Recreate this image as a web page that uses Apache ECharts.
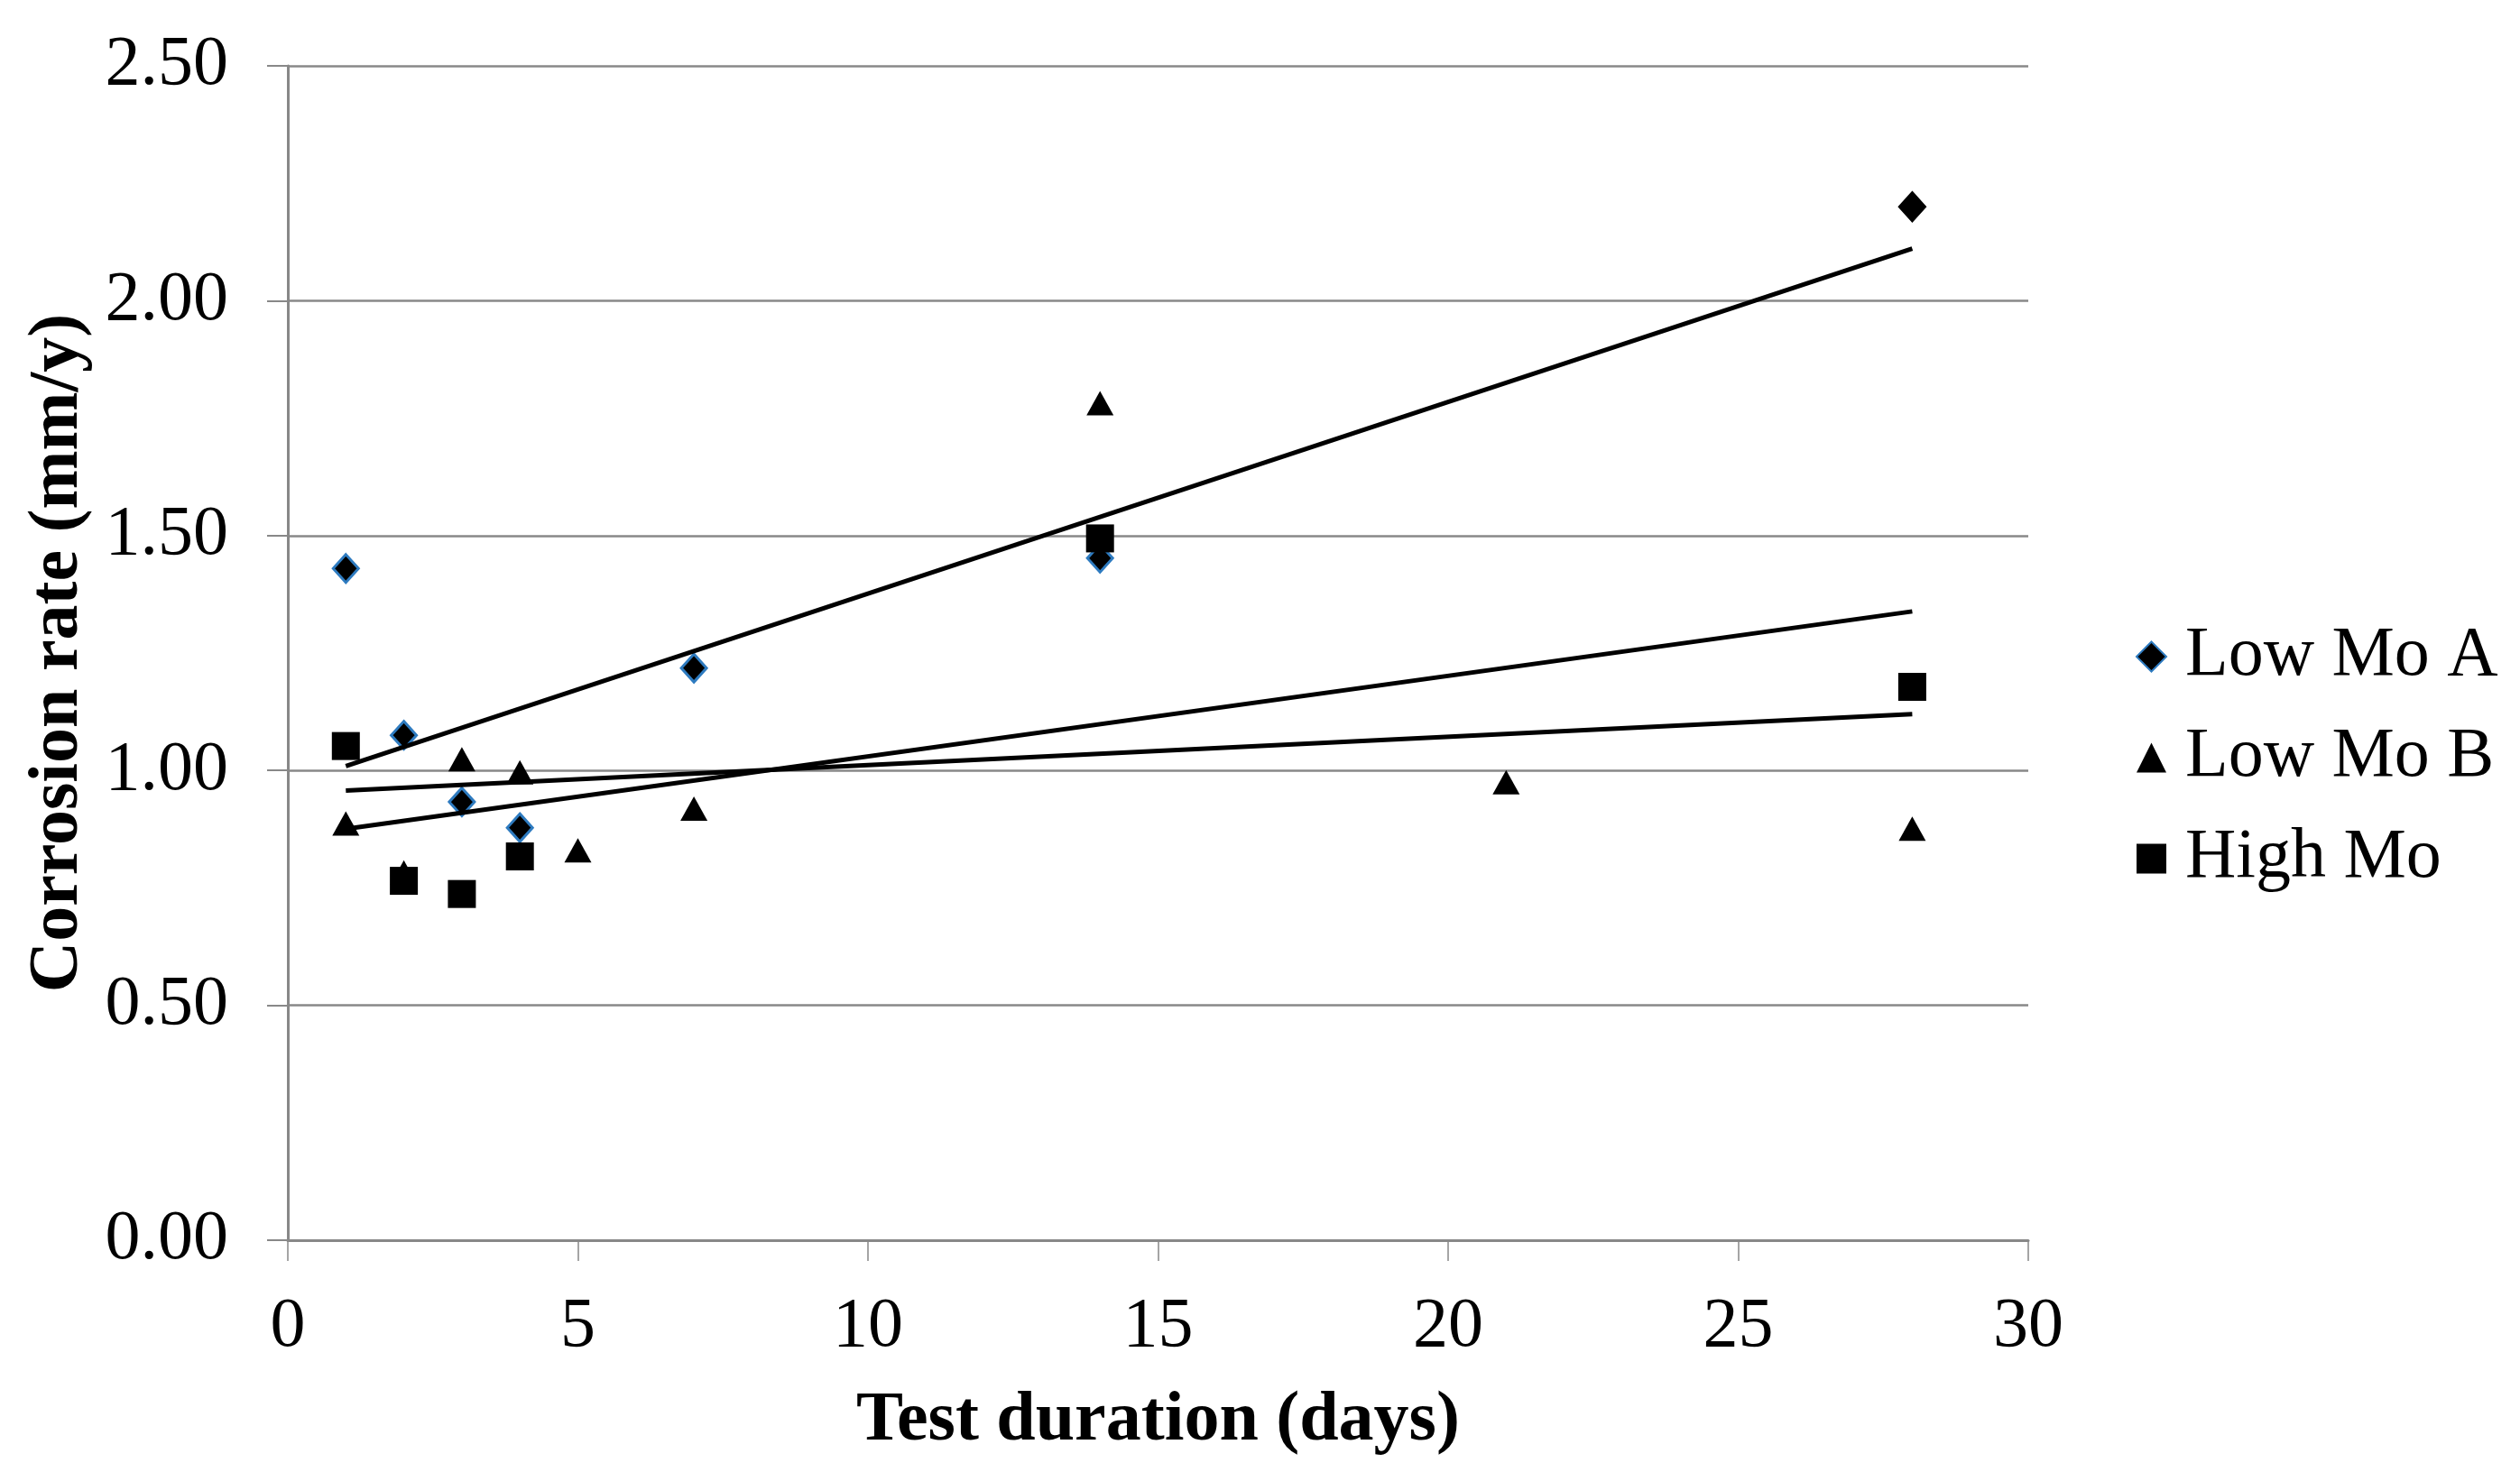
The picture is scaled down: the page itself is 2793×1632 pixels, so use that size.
<!DOCTYPE html>
<html>
<head>
<meta charset="utf-8">
<script src="https://cdn.jsdelivr.net/npm/echarts@6/dist/echarts.min.js"></script>
<style>
html,body{margin:0;padding:0;background:#fff;}
#chart{width:2793px;height:1632px;}
</style>
</head>
<body>
<div id="chart"></div>
<script>
// ---- Data ----
const seriesNames = ['Low Mo A', 'Low Mo B', 'High Mo'];
const lowMoA_x = [1, 2, 3, 4, 7, 14, 28];
const lowMoA_y = [1.43, 1.075, 0.933, 0.878, 1.218, 1.452, 2.20];
const lowMoB_x = [1, 2, 3, 4, 5, 7, 14, 21, 28];
const lowMoB_y = [0.887, 0.783, 1.024, 0.996, 0.830, 0.919, 1.782, 0.975, 0.876];
const highMo_x = [1, 2, 3, 4, 14, 28];
const highMo_y = [1.052, 0.765, 0.737, 0.817, 1.494, 1.178];
const xTicks = [0, 5, 10, 15, 20, 25, 30];
const yTicks = [0, 0.5, 1.0, 1.5, 2.0, 2.5];
const xTitle = 'Test duration (days)';
const yTitle = 'Corrosion rate (mm/y)';

// ---- helpers ----
function pairs(xs, ys) { return xs.map((x, i) => [x, ys[i]]); }
function trend(xs, ys) {
  const n = xs.length;
  const mx = xs.reduce((a, b) => a + b, 0) / n;
  const my = ys.reduce((a, b) => a + b, 0) / n;
  let sxy = 0, sxx = 0;
  for (let i = 0; i < n; i++) { sxy += (xs[i] - mx) * (ys[i] - my); sxx += (xs[i] - mx) ** 2; }
  const b = sxy / sxx, a = my - b * mx;
  const x0 = Math.min(...xs), x1 = Math.max(...xs);
  return [[x0, a + b * x0], [x1, a + b * x1]];
}

const FONT = "'Times New Roman', 'Liberation Serif', serif";
const GREY = '#888888';
const BLUE = '#2e7bc0';

const chart = echarts.init(document.getElementById('chart'));

const lowMoAData = pairs(lowMoA_x, lowMoA_y).map((p, i) =>
  i === lowMoA_x.length - 1 ? { value: p, itemStyle: { borderColor: '#000' } } : p);

const option = {
  backgroundColor: '#ffffff',
  animation: false,
  textStyle: { fontFamily: FONT },
  grid: { left: 319, right: 545, top: 73, bottom: 257, containLabel: false },
  xAxis: {
    type: 'value', min: xTicks[0], max: xTicks[xTicks.length - 1], interval: 5,
    name: xTitle, nameLocation: 'middle', nameGap: 162,
    nameTextStyle: { fontFamily: FONT, fontSize: 78, fontWeight: 'bold', color: '#000' },
    axisLine: { show: true, lineStyle: { color: GREY, width: 3 } },
    axisTick: { show: true, length: 23, lineStyle: { color: GREY, width: 1.5 } },
    axisLabel: { margin: 58, fontFamily: FONT, fontSize: 78, color: '#000' },
    splitLine: { show: false }
  },
  yAxis: {
    type: 'value', min: yTicks[0], max: yTicks[yTicks.length - 1], interval: 0.5,
    name: yTitle, nameLocation: 'middle', nameGap: 215, nameRotate: 90,
    nameTextStyle: { fontFamily: FONT, fontSize: 78, fontWeight: 'bold', color: '#000' },
    axisLine: { show: true, lineStyle: { color: GREY, width: 3 } },
    axisTick: { show: true, length: 23, lineStyle: { color: GREY, width: 2 } },
    axisLabel: { margin: 66, fontFamily: FONT, fontSize: 78, color: '#000',
      formatter: v => v.toFixed(2) },
    splitLine: { show: true, lineStyle: { color: GREY, width: 2.5 } }
  },
  legend: {
    orient: 'vertical', left: 2362, top: 683,
    data: seriesNames,
    itemWidth: 33, itemHeight: 33, itemGap: 32,
    textStyle: { fontFamily: FONT, fontSize: 78, color: '#000', lineHeight: 80, padding: [0, 0, 0, 16] }
  },
  series: [
    {
      name: seriesNames[0], type: 'scatter', symbol: 'diamond', symbolSize: [28, 31],
      itemStyle: { color: '#000', borderColor: BLUE, borderWidth: 3, opacity: 1 },
      data: lowMoAData, z: 3
    },
    {
      name: seriesNames[1], type: 'scatter', symbol: 'triangle', symbolSize: [30, 27],
      itemStyle: { color: '#000', opacity: 1 },
      data: pairs(lowMoB_x, lowMoB_y), z: 4
    },
    {
      name: seriesNames[2], type: 'scatter', symbol: 'rect', symbolSize: 31,
      itemStyle: { color: '#000', opacity: 1 },
      data: pairs(highMo_x, highMo_y), z: 5
    },
    {
      name: 'trendA', type: 'line', data: trend(lowMoA_x, lowMoA_y), showSymbol: false,
      symbol: 'none', silent: true, lineStyle: { color: '#000', width: 5 }, z: 6
    },
    {
      name: 'trendB', type: 'line', data: trend(lowMoB_x, lowMoB_y), showSymbol: false,
      symbol: 'none', silent: true, lineStyle: { color: '#000', width: 5 }, z: 6
    },
    {
      name: 'trendH', type: 'line', data: trend(highMo_x, highMo_y), showSymbol: false,
      symbol: 'none', silent: true, lineStyle: { color: '#000', width: 5 }, z: 6
    }
  ]
};
chart.setOption(option);
</script>
</body>
</html>
